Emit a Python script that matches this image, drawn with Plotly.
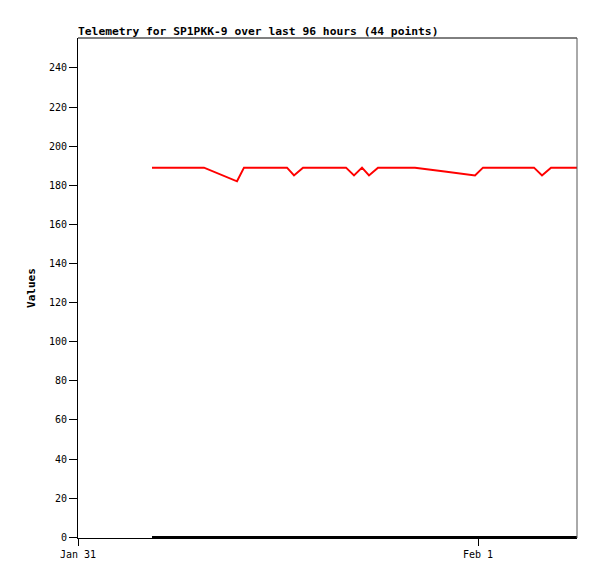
import plotly.graph_objects as go
from datetime import datetime, timedelta

base = datetime(2024, 1, 31, 0, 0)

# hours since Jan 31 00:00 for each telemetry sample
hours = [4.44, 5.0, 5.5, 6.0, 6.5, 7.0, 7.56,
         9.54,
         9.96, 10.5, 11.0, 11.5, 12.0, 12.54,
         12.96,
         13.5, 14.0, 14.5, 15.0, 15.5, 16.08,
         16.56, 17.04, 17.46,
         18.0, 18.5, 19.0, 19.5, 20.22,
         22.0, 23.82,
         24.3, 24.8, 25.3, 25.8, 26.3, 26.8, 27.36,
         27.84,
         28.38, 28.9, 29.4, 29.94]
red_values = [189, 189, 189, 189, 189, 189, 189,
              182,
              189, 189, 189, 189, 189, 189,
              185,
              189, 189, 189, 189, 189, 189,
              185, 189, 185,
              189, 189, 189, 189, 189,
              187, 185,
              189, 189, 189, 189, 189, 189, 189,
              185,
              189, 189, 189, 189]
black_values = [0] * len(hours)

y_ticks = [0, 20, 40, 60, 80, 100, 120, 140, 160, 180, 200, 220, 240]
x_tick_labels = ["Jan 31", "Feb 1"]

times = [base + timedelta(hours=h) for h in hours]
x_tick_vals = [base, base + timedelta(days=1)]
x_end = base + timedelta(hours=29.94)

fig = go.Figure()
fig.add_trace(go.Scatter(x=times, y=black_values, mode="lines",
                         line=dict(color="#000000", width=2.5), showlegend=False))
fig.add_trace(go.Scatter(x=times, y=red_values, mode="lines",
                         line=dict(color="#ff0000", width=2), showlegend=False))

fig.update_layout(
    width=581, height=563,
    margin=dict(l=70, r=12, t=30, b=33, autoexpand=False),
    paper_bgcolor="white", plot_bgcolor="white",
    font=dict(family="DejaVu Sans Mono", size=10, color="#000000"),
    title=dict(text="<b>Telemetry for SP1PKK-9 over last 96 hours (44 points)</b>",
               x=70 / 581, xanchor="left", y=1 - 27 / 563, yanchor="bottom",
               font=dict(family="DejaVu Sans Mono", size=11.3, color="#000000")),
    xaxis=dict(range=[base, x_end], tickvals=x_tick_vals, ticktext=x_tick_labels,
               showgrid=False, zeroline=False, showline=True, linecolor="#000000",
               linewidth=1, ticks="outside", ticklen=7, tickcolor="#000000",
               mirror=False),
    yaxis=dict(range=[-0.4, 255.3], tickvals=y_ticks, showgrid=False, zeroline=False,
               showline=True, linecolor="#000000", linewidth=1, ticks="outside",
               ticklen=8, tickcolor="#000000",
               title=dict(text="<b>Values</b>", standoff=11,
                          font=dict(family="DejaVu Sans Mono", size=11))),
    shapes=[
        dict(type="line", xref="paper", yref="paper", x0=0, x1=1, y0=1, y1=1,
             line=dict(color="#000000", width=1)),
        dict(type="line", xref="paper", yref="paper", x0=1, x1=1, y0=0, y1=1,
             line=dict(color="#555555", width=1)),
    ],
)

fig.write_html("out.html")
